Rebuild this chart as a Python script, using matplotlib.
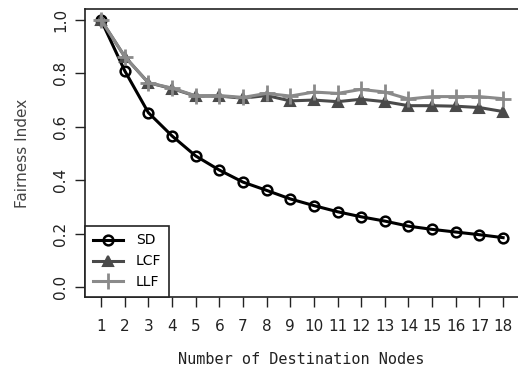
import matplotlib
matplotlib.use('Agg')
import matplotlib.pyplot as plt

# 목적지 노드 수에 따른 공정성 지수
nodes = list(range(1, 19))
sd = [1.0, 0.81, 0.653, 0.566, 0.491, 0.438, 0.393, 0.362, 0.33, 0.305,
      0.282, 0.263, 0.247, 0.228, 0.216, 0.206, 0.196, 0.185]
lcf = [1.0, 0.863, 0.765, 0.743, 0.715, 0.715, 0.707, 0.717, 0.697, 0.70,
       0.694, 0.703, 0.694, 0.679, 0.679, 0.677, 0.672, 0.657]
llf = [1.0, 0.863, 0.765, 0.745, 0.716, 0.717, 0.71, 0.725, 0.715, 0.73,
       0.725, 0.74, 0.73, 0.704, 0.713, 0.713, 0.713, 0.705]
yticks = [0.0, 0.2, 0.4, 0.6, 0.8, 1.0]

fig = plt.figure(figsize=(5.18, 3.74), dpi=100)
ax = fig.add_axes([0.164, 0.206, 0.836, 0.770])

ax.plot(nodes, sd, '-o', color='black', lw=2.2, ms=7, mfc='none', mew=1.8, label='SD')
ax.plot(nodes, lcf, '-^', color='#4a4a4a', lw=2.2, ms=6.5, mew=1.5, label='LCF')
ax.plot(nodes, llf, '-+', color='#8a8a8a', lw=2.2, ms=11, mew=2.0, label='LLF')

ax.set_xlim(0.32, 18.63)
ax.set_ylim(-0.037, 1.041)
ax.set_xticks(nodes)
ax.set_yticks(yticks)
ax.set_yticklabels(['%.1f' % v for v in yticks], rotation=90, va='center')
ax.tick_params(axis='x', length=7, width=1, pad=9, labelsize=11, colors='#222222')
ax.tick_params(axis='y', length=7, width=1, pad=5, labelsize=11, colors='#222222')
for s in ax.spines.values():
    s.set_linewidth(1.2)
    s.set_color('#222222')
ax.spines['right'].set_visible(False)

ax.set_xlabel('Number of Destination Nodes', fontsize=11, labelpad=13,
              family='DejaVu Sans Mono', color='#222222')
ax.set_ylabel('Fairness Index', fontsize=11, labelpad=17, color='#444444')

leg = ax.legend(loc='lower left', borderaxespad=0, fancybox=False, framealpha=1,
                edgecolor='#222222', fontsize=10, handlelength=2.2, labelspacing=0.5,
                borderpad=0.55, handletextpad=0.9)
leg.get_frame().set_linewidth(1.2)

plt.savefig('out.png', dpi=100)
